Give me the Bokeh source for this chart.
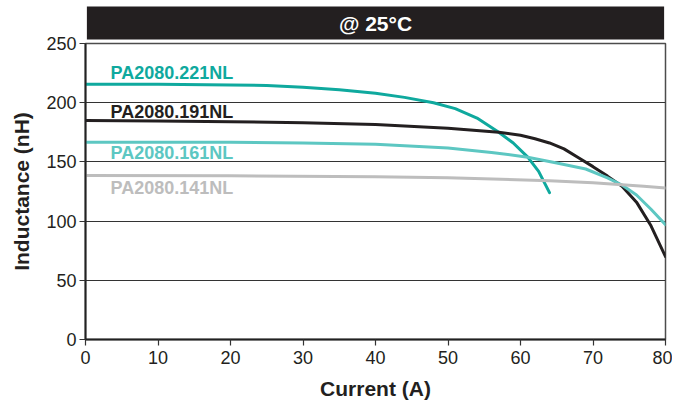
from bokeh.plotting import figure
from bokeh.models import Title, FixedTicker, Range1d
from bokeh.core.properties import value
from bokeh.embed import file_html
from bokeh.resources import INLINE

# ---- data ----
title_text = "@ 25°C"
x_label = "Current (A)"
y_label = "Inductance (nH)"
x_ticks = [0, 10, 20, 30, 40, 50, 60, 70, 80]
y_ticks = [0, 50, 100, 150, 200, 250]

names = ["PA2080.221NL", "PA2080.191NL", "PA2080.161NL", "PA2080.141NL"]
colors = ["#0FA99E", "#231F20", "#5DC7C2", "#BDBDBD"]

x_221 = [0, 10, 20, 25, 30, 35, 40, 44, 48, 51, 54, 57, 59, 61, 62.5, 64]
y_221 = [215.5, 215.5, 215, 214.5, 213, 211, 208, 204.5, 200, 195, 187, 175, 166, 154, 142, 124]

x_191 = [0, 10, 20, 30, 40, 50, 57, 60, 62, 64, 66, 68, 70, 72, 74, 76, 78, 80]
y_191 = [185, 184.5, 184, 183, 181.5, 178.5, 175, 172.5, 169.5, 166, 161, 153.5, 146, 138, 129.5, 116, 96, 70]

x_161 = [0, 10, 20, 30, 40, 50, 56, 61, 65, 69, 72, 74, 76, 78, 80]
y_161 = [166.5, 166.5, 166.5, 166, 165, 161.7, 158, 154, 149, 144, 136.5, 130.5, 122, 110, 97]

x_141 = [0, 20, 40, 50, 64, 70, 74, 77, 80]
y_141 = [138.5, 138.2, 137.5, 136.7, 134, 132.3, 130.8, 129.5, 128]

label_x = [3.45, 3.45, 3.45, 3.45]
label_y = [225, 192.2, 157.5, 128.3]

series_x = [x_221, x_191, x_161, x_141]
series_y = [y_221, y_191, y_161, y_141]

# ---- figure ----
p = figure(width=672, height=402, output_backend="svg", toolbar_location=None,
           x_range=Range1d(0, 80), y_range=Range1d(0, 250),
           min_border_left=85, min_border_right=7, min_border_top=0, min_border_bottom=0)

p.title = Title(text=title_text, align="center", text_color="white",
                background_fill_color="#231F20", text_font_size="21px",
                text_font_style="bold", text_font="Liberation Sans",
                padding=dict(top=5, bottom=5, left=252, right=252),
                standoff=8, offset=0)

p.outline_line_color = "#4D4D4D"
p.outline_line_width = 1.5
p.xgrid.visible = False
p.ygrid.grid_line_color = "#333333"
p.ygrid.grid_line_width = 1.2
p.ygrid.ticker = FixedTicker(ticks=y_ticks)
p.background_fill_color = "white"
p.border_fill_color = "white"

for ax, ticks in ((p.xaxis[0], x_ticks), (p.yaxis[0], y_ticks)):
    ax.ticker = FixedTicker(ticks=ticks)
    ax.minor_tick_line_color = None
    ax.major_tick_in = 0
    ax.major_tick_out = 6
    ax.major_tick_line_color = "#333333"
    ax.major_tick_line_width = 1.2
    ax.axis_line_color = "#222222"
    ax.axis_line_width = 2
    ax.major_label_text_font = "Liberation Sans Narrow, Liberation Sans, sans-serif"
    ax.major_label_text_font_size = "18px"
    ax.major_label_text_color = "#231F20"
    ax.axis_label_text_font = "Liberation Sans"
    ax.axis_label_text_font_style = "bold"
    ax.axis_label_text_font_size = "21px"
    ax.axis_label_text_color = "#231F20"

p.xaxis.axis_label = x_label
p.yaxis.axis_label = y_label
p.xaxis.major_label_standoff = 5
p.yaxis.major_label_standoff = 3
p.xaxis.axis_label_standoff = 10
p.yaxis.axis_label_standoff = 10

for xs, ys, c in zip(series_x, series_y, colors):
    p.line(xs, ys, line_color=c, line_width=3, line_join="round", line_cap="round")

for nm, lx, ly, c in zip(names, label_x, label_y, colors):
    p.text(x=[lx], y=[ly], text=[nm], text_color=c, text_font=value("Liberation Sans"),
           text_font_style="bold", text_font_size="18px", text_baseline="middle",
           text_align="left")

open("out.html", "w").write(file_html(p, INLINE))
